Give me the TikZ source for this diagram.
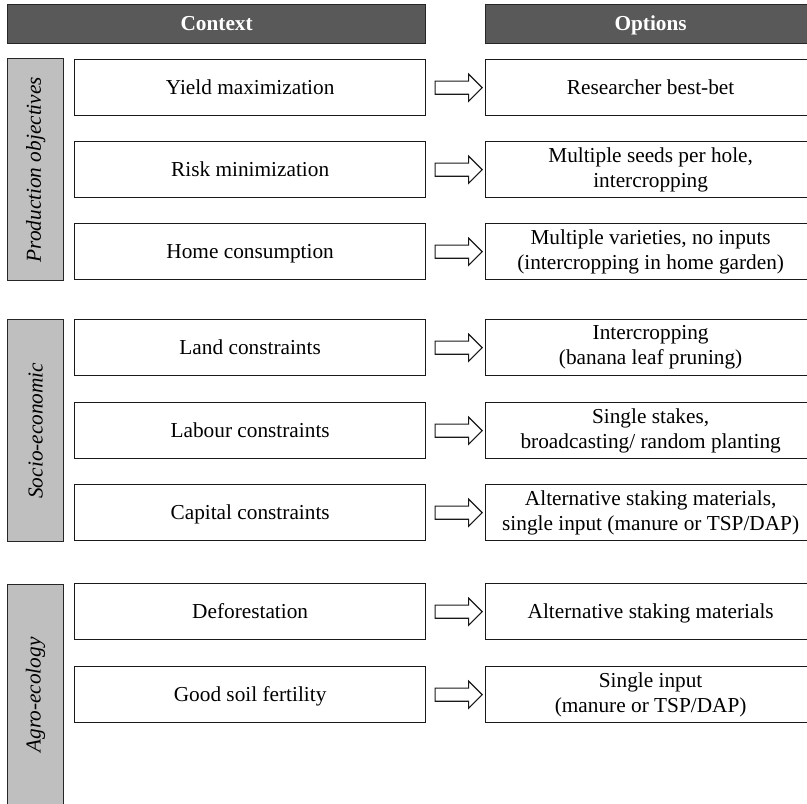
\documentclass[tikz,border=0pt]{standalone}
\usepackage{fontspec}
\setmainfont{Liberation Serif}
\usetikzlibrary{shapes.arrows,calc}
\definecolor{headgray}{HTML}{595959}
\definecolor{sidegray}{HTML}{BFBFBF}
\tikzset{
  txt/.style={font=\fontsize{21.3}{25}\selectfont, align=center},
  oneline/.style={text height=16pt, text depth=2.5pt},
  hdr/.style={draw=black!85, line width=1.3pt, fill=headgray, text=white, anchor=north west, minimum height=39pt, inner sep=0pt, text height=16pt, text depth=2.5pt, font=\fontsize{21.3}{25}\selectfont\bfseries},
  side/.style={draw=black!85, line width=1.3pt, fill=sidegray, anchor=north west, minimum width=56pt, inner sep=0pt},
  sidetxt/.style={font=\fontsize{21.3}{25}\selectfont\itshape, rotate=90},
  ctx/.style={draw=black!90, line width=1.3pt, fill=white, anchor=north west, minimum width=351pt, minimum height=56pt, inner sep=0pt, txt, oneline},
  opt/.style={draw=black!90, line width=1.3pt, fill=white, anchor=north west, minimum width=330pt, minimum height=56pt, inner sep=0pt, txt},
  barrow/.style={draw=black!90, line width=1.1pt, fill=white, single arrow, single arrow head extend=7pt, inner xsep=0pt, inner ysep=6pt, minimum height=47pt}
}
\begin{document}
\begin{tikzpicture}[x=1pt,y=-1pt]
\useasboundingbox (0,0) rectangle (807,804);
% headers
\node[hdr, minimum width=418pt] (hc) at (7,4) {Context};
\node[hdr, minimum width=330pt] (ho) at (485,4) {Options};
% side bars
\node[side, minimum height=222pt] (s1) at (7,58) {};
\node[sidetxt] (t1) at (s1.center) {Production objectives};
\node[side, minimum height=222pt] (s2) at (7,319) {};
\node[sidetxt] (t2) at (s2.center) {Socio-economic};
\node[side, minimum height=230pt] (s3) at (7,584) {};
\node[sidetxt] (t3) at ($(s3.north)!0.48!(s3.south)$) {Agro-ecology};
% context boxes
\node[ctx] (c1) at (74,59) {Yield maximization};
\node[ctx] (c2) at (74,141) {Risk minimization};
\node[ctx] (c3) at (74,223) {Home consumption};
\node[ctx] (c4) at (74,319) {Land constraints};
\node[ctx] (c5) at (74,402) {Labour constraints};
\node[ctx] (c6) at (74,484) {Capital constraints};
\node[ctx] (c7) at (74,583) {Deforestation};
\node[ctx] (c8) at (74,666) {Good soil fertility};
% option boxes
\node[opt, oneline] (o1) at (485,59) {Researcher best-bet};
\node[opt] (o2) at (485,141) {Multiple seeds per hole,\\intercropping};
\node[opt] (o3) at (485,223) {Multiple varieties, no inputs\\(intercropping in home garden)};
\node[opt] (o4) at (485,319) {Intercropping\\(banana leaf pruning)};
\node[opt] (o5) at (485,402) {Single stakes,\\broadcasting/ random planting};
\node[opt] (o6) at (485,484) {Alternative staking materials,\\single input (manure or TSP/DAP)};
\node[opt, oneline] (o7) at (485,583) {Alternative staking materials};
\node[opt] (o8) at (485,666) {Single input\\(manure or TSP/DAP)};
% block arrows
\foreach \i in {1,...,8}{
  \node[barrow] (a\i) at ($(c\i.east)!0.495!(c\i.east-|o\i.west)$) {};
}
\end{tikzpicture}
\end{document}
